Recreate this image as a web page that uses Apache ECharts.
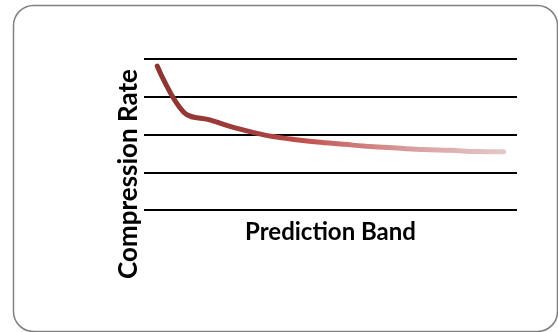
<!DOCTYPE html>
<html>
<head>
<meta charset="utf-8">
<script src="https://cdn.jsdelivr.net/npm/echarts@6/dist/echarts.min.js"></script>
<style>
  html, body { margin: 0; padding: 0; background: #fff; }
  #chart { width: 558px; height: 332px; }
</style>
</head>
<body>
<div id="chart"></div>
<script>
// values
const bands = ['1', '2', '3', '4', '5', '6', '7', '8', '9', '10', '11', '12', '13', '14'];
const compressionRate = [3.81, 2.58, 2.38, 2.16, 1.99, 1.88, 1.8, 1.74, 1.68, 1.64, 1.6, 1.58, 1.55, 1.54];
const yMin = 0;
const yMax = 4;
const yStep = 1;

const chart = echarts.init(document.getElementById('chart'));

const titleFont = 'Lato, "Open Sans", sans-serif';

const option = {
  animation: false,
  grid: { left: 144, right: 41, top: 59, bottom: 122 },
  graphic: [
    {
      type: 'rect',
      z: -10,
      shape: { x: 13.5, y: 5.5, width: 544, height: 326, r: 20 },
      style: { fill: '#fff', stroke: '#808080', lineWidth: 1.5 }
    },
    {
      type: 'text',
      x: 129,
      y: 174,
      rotation: Math.PI / 2,
      style: {
        text: 'Compression Rate',
        font: 'bold 26px ' + titleFont,
        fill: '#000',
        align: 'center',
        verticalAlign: 'middle'
      }
    }
  ],
  xAxis: {
    type: 'category',
    data: bands,
    boundaryGap: true,
    name: 'Prediction Band',
    nameLocation: 'middle',
    nameGap: 10,
    nameTextStyle: {
      color: '#000',
      fontWeight: 'bold',
      fontSize: 24,
      fontFamily: titleFont,
      verticalAlign: 'top'
    },
    axisLine: { show: false },
    axisTick: { show: false },
    axisLabel: { show: false },
    splitLine: { show: false }
  },
  yAxis: {
    type: 'value',
    min: yMin,
    max: yMax,
    interval: yStep,
    axisLine: { show: false },
    axisTick: { show: false },
    axisLabel: { show: false },
    splitLine: { lineStyle: { color: '#000', width: 2 } }
  },
  series: [
    {
      type: 'line',
      data: compressionRate,
      smooth: 0.35,
      symbol: 'none',
      lineStyle: {
        width: 5,
        cap: 'round',
        join: 'round',
        color: new echarts.graphic.LinearGradient(0, 0, 1, 0, [
          { offset: 0, color: '#8c3431' },
          { offset: 0.3, color: '#a3403d' },
          { offset: 0.42, color: '#c0504d' },
          { offset: 0.55, color: '#cc7472' },
          { offset: 0.75, color: '#d9a3a2' },
          { offset: 1, color: '#e6c8c8' }
        ])
      }
    }
  ]
};

chart.setOption(option);
</script>
</body>
</html>
